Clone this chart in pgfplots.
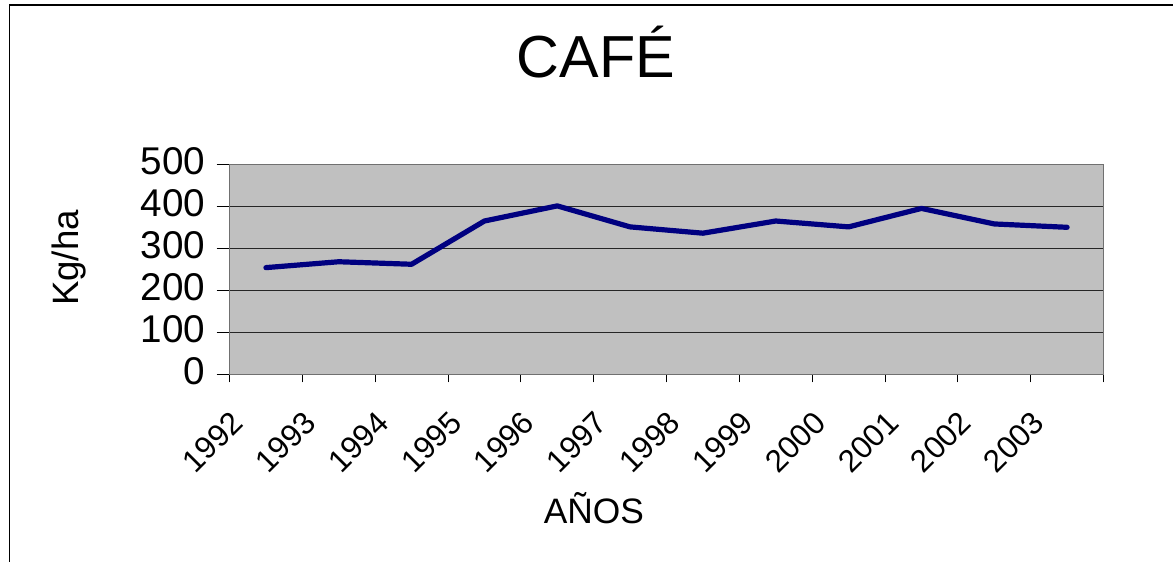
\documentclass[border=0pt]{standalone}
\usepackage{pgfplots}
\pgfplotsset{compat=1.18}
\usepackage{fontspec}
\setmainfont{Liberation Sans}
\definecolor{plotgray}{HTML}{C0C0C0}
\definecolor{navyline}{HTML}{000080}
\definecolor{framegray}{HTML}{707070}
\begin{document}
\begin{tikzpicture}
\useasboundingbox (0pt,0pt) rectangle (879.75pt,420.75pt);
\draw[line width=1pt, black] (7.125pt,-5pt) -- (7.125pt,417pt) -- (885pt,417pt);
\begin{axis}[
  at={(172.125pt,140.025pt)}, anchor=south west,
  scale only axis, width=655.5pt, height=157.5pt,
  xmin=0.5, xmax=12.5, ymin=0, ymax=500,
  xtick={1,...,12},
  xticklabels={1992,1993,1994,1995,1996,1997,1998,1999,2000,2001,2002,2003},
  minor xtick={0.5,1.5,...,12.5},
  ytick={0,100,...,500},
  tick pos=left,
  tick align=outside,
  major tick length=9.75pt,
  minor tick length=6pt,
  major x tick style={draw=none},
  minor x tick style={black, line width=0.75pt},
  ytick style={black, line width=0.75pt},
  ymajorgrids,
  grid style={black!85, line width=0.75pt},
  axis line style={framegray, line width=1.2pt},
  axis background/.style={fill=plotgray},
  /pgf/number format/assume math mode=true,
  yticklabel style={font=\fontsize{29}{29}\selectfont, xshift=-5pt, yshift=2.25pt},
  xticklabel style={font=\fontsize{23.5}{23.5}\selectfont, xshift=-19pt, yshift=-20pt, rotate=45, anchor=east},
  title={CAF\'E},
  title style={font=\fontsize{44.5}{44.5}\selectfont, at={(axis description cs:0.4193,1.374)}, anchor=base},
  xlabel={AÑOS},
  xlabel style={font=\fontsize{26.5}{26.5}\selectfont, at={(axis description cs:0.417,-0.7095)}, anchor=base},
  ylabel={Kg/ha},
  ylabel style={font=\fontsize{27.5}{27.5}\selectfont, at={(axis description cs:-0.1722,0.5538)}, rotate=0, anchor=base},
]
\addplot[navyline, line width=3.9pt, line cap=round, line join=round] coordinates {
  (1,254) (2,268) (3,262) (4,365) (5,401) (6,351)
  (7,336) (8,365) (9,351) (10,395) (11,358) (12,350)
};
\end{axis}
\end{tikzpicture}
\end{document}
